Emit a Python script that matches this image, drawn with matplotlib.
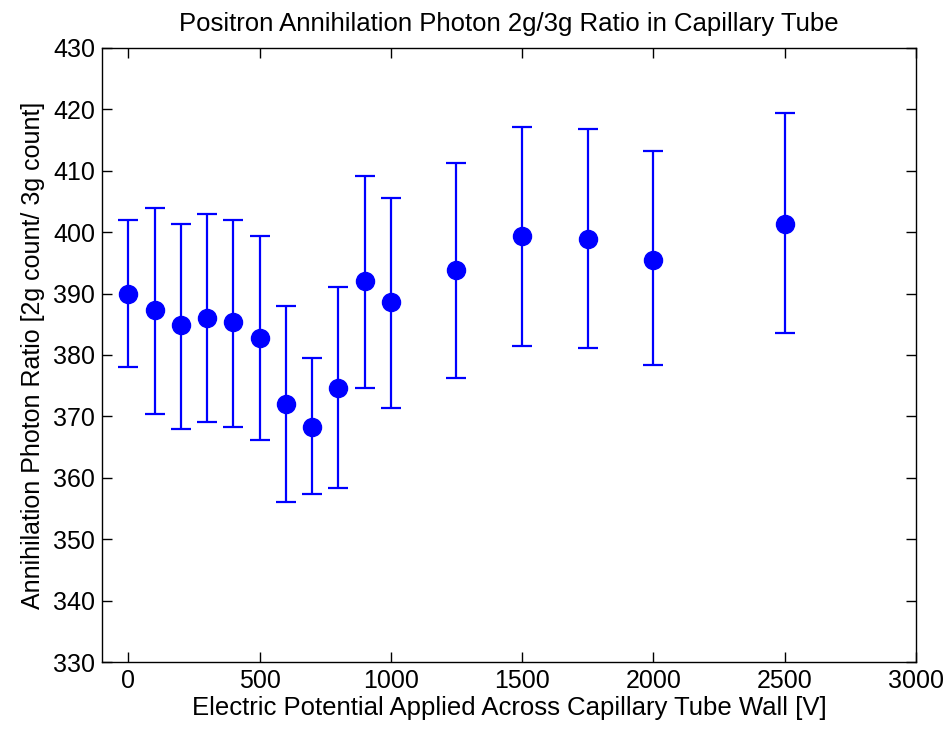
import matplotlib
matplotlib.use("Agg")
import matplotlib.pyplot as plt

plt.rcParams["font.family"] = ["Liberation Sans", "DejaVu Sans"]

# Applied voltage [V]
voltage = [0, 100, 200, 300, 400, 500, 600, 700, 800, 900, 1000, 1250, 1500, 1750, 2000, 2500]
# 2g/3g ratio
ratio = [390.0, 387.3, 384.8, 386.0, 385.3, 382.8, 372.0, 368.3, 374.6, 392.0, 388.7,
         393.9, 399.3, 398.8, 395.5, 401.3]
err_low = [378.0, 370.4, 368.0, 369.0, 368.3, 366.1, 356.0, 357.3, 358.3, 374.6, 371.4,
           376.3, 381.5, 381.2, 378.3, 383.5]
err_high = [402.0, 404.0, 401.3, 403.0, 402.0, 399.3, 388.0, 379.5, 391.0, 409.2, 405.6,
            411.2, 417.1, 416.8, 413.2, 419.4]

lower = [r - lo for r, lo in zip(ratio, err_low)]
upper = [hi - r for r, hi in zip(ratio, err_high)]

fig = plt.figure(figsize=(9.46, 7.36), dpi=100)
ax = fig.add_axes([0.108, 0.1005, 0.860, 0.8345])

ax.errorbar(voltage, ratio, yerr=[lower, upper], fmt="o", color="blue",
            ecolor="blue", markersize=13, elinewidth=1.6, capsize=7, capthick=1.6)

ax.set_xlim(-100, 3000)
ax.set_ylim(330, 430)
ax.set_xticks(range(0, 3001, 500))
ax.set_yticks(range(330, 431, 10))
ax.tick_params(direction="in", top=True, right=True, length=7, width=1,
               labelsize=18, pad=5)
for s in ax.spines.values():
    s.set_linewidth(1)

ax.set_title("Positron Annihilation Photon 2g/3g Ratio in Capillary Tube", fontsize=18.5, pad=12)
ax.set_xlabel("Electric Potential Applied Across Capillary Tube Wall [V]", fontsize=18.5, labelpad=2)
ax.set_ylabel("Annihilation Photon Ratio [2g count/ 3g count]", fontsize=18, labelpad=6)

fig.savefig("out.png", dpi=100)
